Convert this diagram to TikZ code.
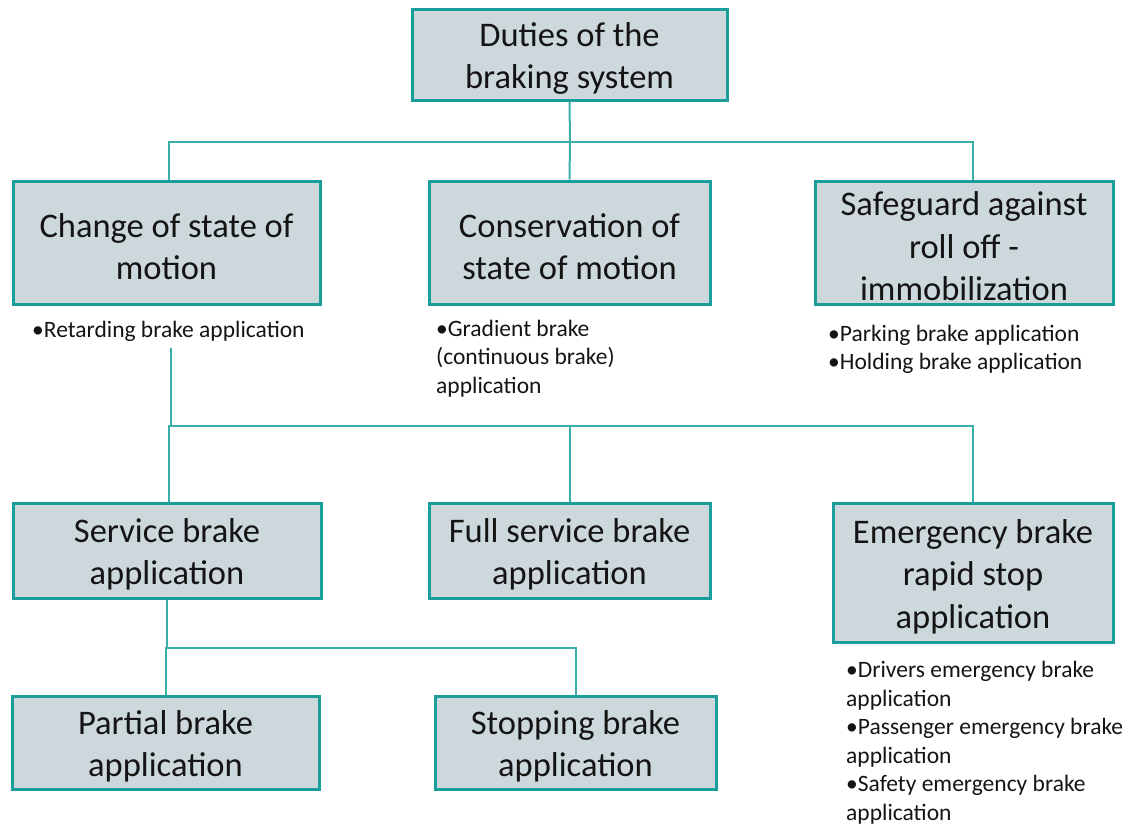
\documentclass[tikz,border=0pt]{standalone}
\usepackage{fontspec}
\setmainfont{Carlito}
\usetikzlibrary{calc}
\definecolor{boxfill}{HTML}{CDD8DC}
\definecolor{boxline}{HTML}{1A9E9A}
\definecolor{linkline}{HTML}{3AAFAA}
\definecolor{ink}{HTML}{141414}
\newcommand{\toppad}{\rule{0pt}{32pt}}
\tikzset{
  duty/.style={draw=boxline, line width=3pt, fill=boxfill, rectangle,
    align=center, inner sep=0pt, text=ink,
    font=\fontsize{34.5}{42.5}\selectfont},
  note/.style={anchor=north west, align=left, inner sep=0pt, text=ink,
    font=\fontsize{23.5}{28.6}\selectfont},
  link/.style={draw=linkline, line width=2pt}
}
\begin{document}
\begin{tikzpicture}[x=1pt, y=-1pt]
\useasboundingbox (0,0) rectangle (1130,825);

% top
\node[duty, minimum width=315, minimum height=91] (root) at (569.5,54.5) {\toppad Duties of the\\braking system};

% first level
\node[duty, minimum width=307, minimum height=123] (change) at (166.5,242.5) {\toppad Change of state of\\motion};
\node[duty, minimum width=281, minimum height=123] (conserve) at (569.5,242.5) {\toppad Conservation of\\state of motion};
\node[duty, minimum width=298, minimum height=123] (guard) at (964,242.5) {\toppad Safeguard against\\roll off -\\immobilization};

% second level
\node[duty, minimum width=308, minimum height=95] (service) at (167,550.5) {\toppad Service brake\\application};
\node[duty, minimum width=281, minimum height=95] (full) at (569.5,550.5) {\toppad Full service brake\\application};
\node[duty, minimum width=280, minimum height=139] (emerg) at (973,572.5) {\toppad Emergency brake\\rapid stop\\application};

% third level
\node[duty, minimum width=307, minimum height=93] (partial) at (165.5,742.5) {\toppad Partial brake\\application};
\node[duty, minimum width=281, minimum height=93] (stopping) at (575.5,742.5) {\toppad Stopping brake\\application};

% notes
\node[note] (n1) at (32,320.5) {•Retarding brake application};
\node[note] (n2) at (436,319.5) {•Gradient brake\\(continuous brake)\\application};
\node[note] (n3) at (828,324.5) {•Parking brake application\\•Holding brake application};
\node[note] (n4) at (846,661) {•Drivers emergency brake\\application\\•Passenger emergency brake\\application\\•Safety emergency brake\\application};

% connectors: root to first level
\coordinate (j1) at (570,142);
\draw[link] (root.south) -- (j1);
\draw[link] (j1) -| ($(change.north)+(2.5,0)$);
\draw[link] (j1) -- (conserve.north);
\draw[link] (j1) -| ($(guard.north)+(9,0)$);

% connectors: change of state to second level
\coordinate (s2) at (171,348);
\coordinate (j2) at (171,426);
\draw[link] (s2) -- (j2);
\draw[link] (j2) -| ($(service.north)+(2,0)$);
\draw[link] (j2) -| (full.north);
\draw[link] (j2) -| (emerg.north);

% connectors: service brake to third level
\coordinate (j3) at (167,648);
\draw[link] (service.south) -- (j3);
\draw[link] (j3) -| (partial.north);
\draw[link] (j3) -| (stopping.north);
\end{tikzpicture}
\end{document}
